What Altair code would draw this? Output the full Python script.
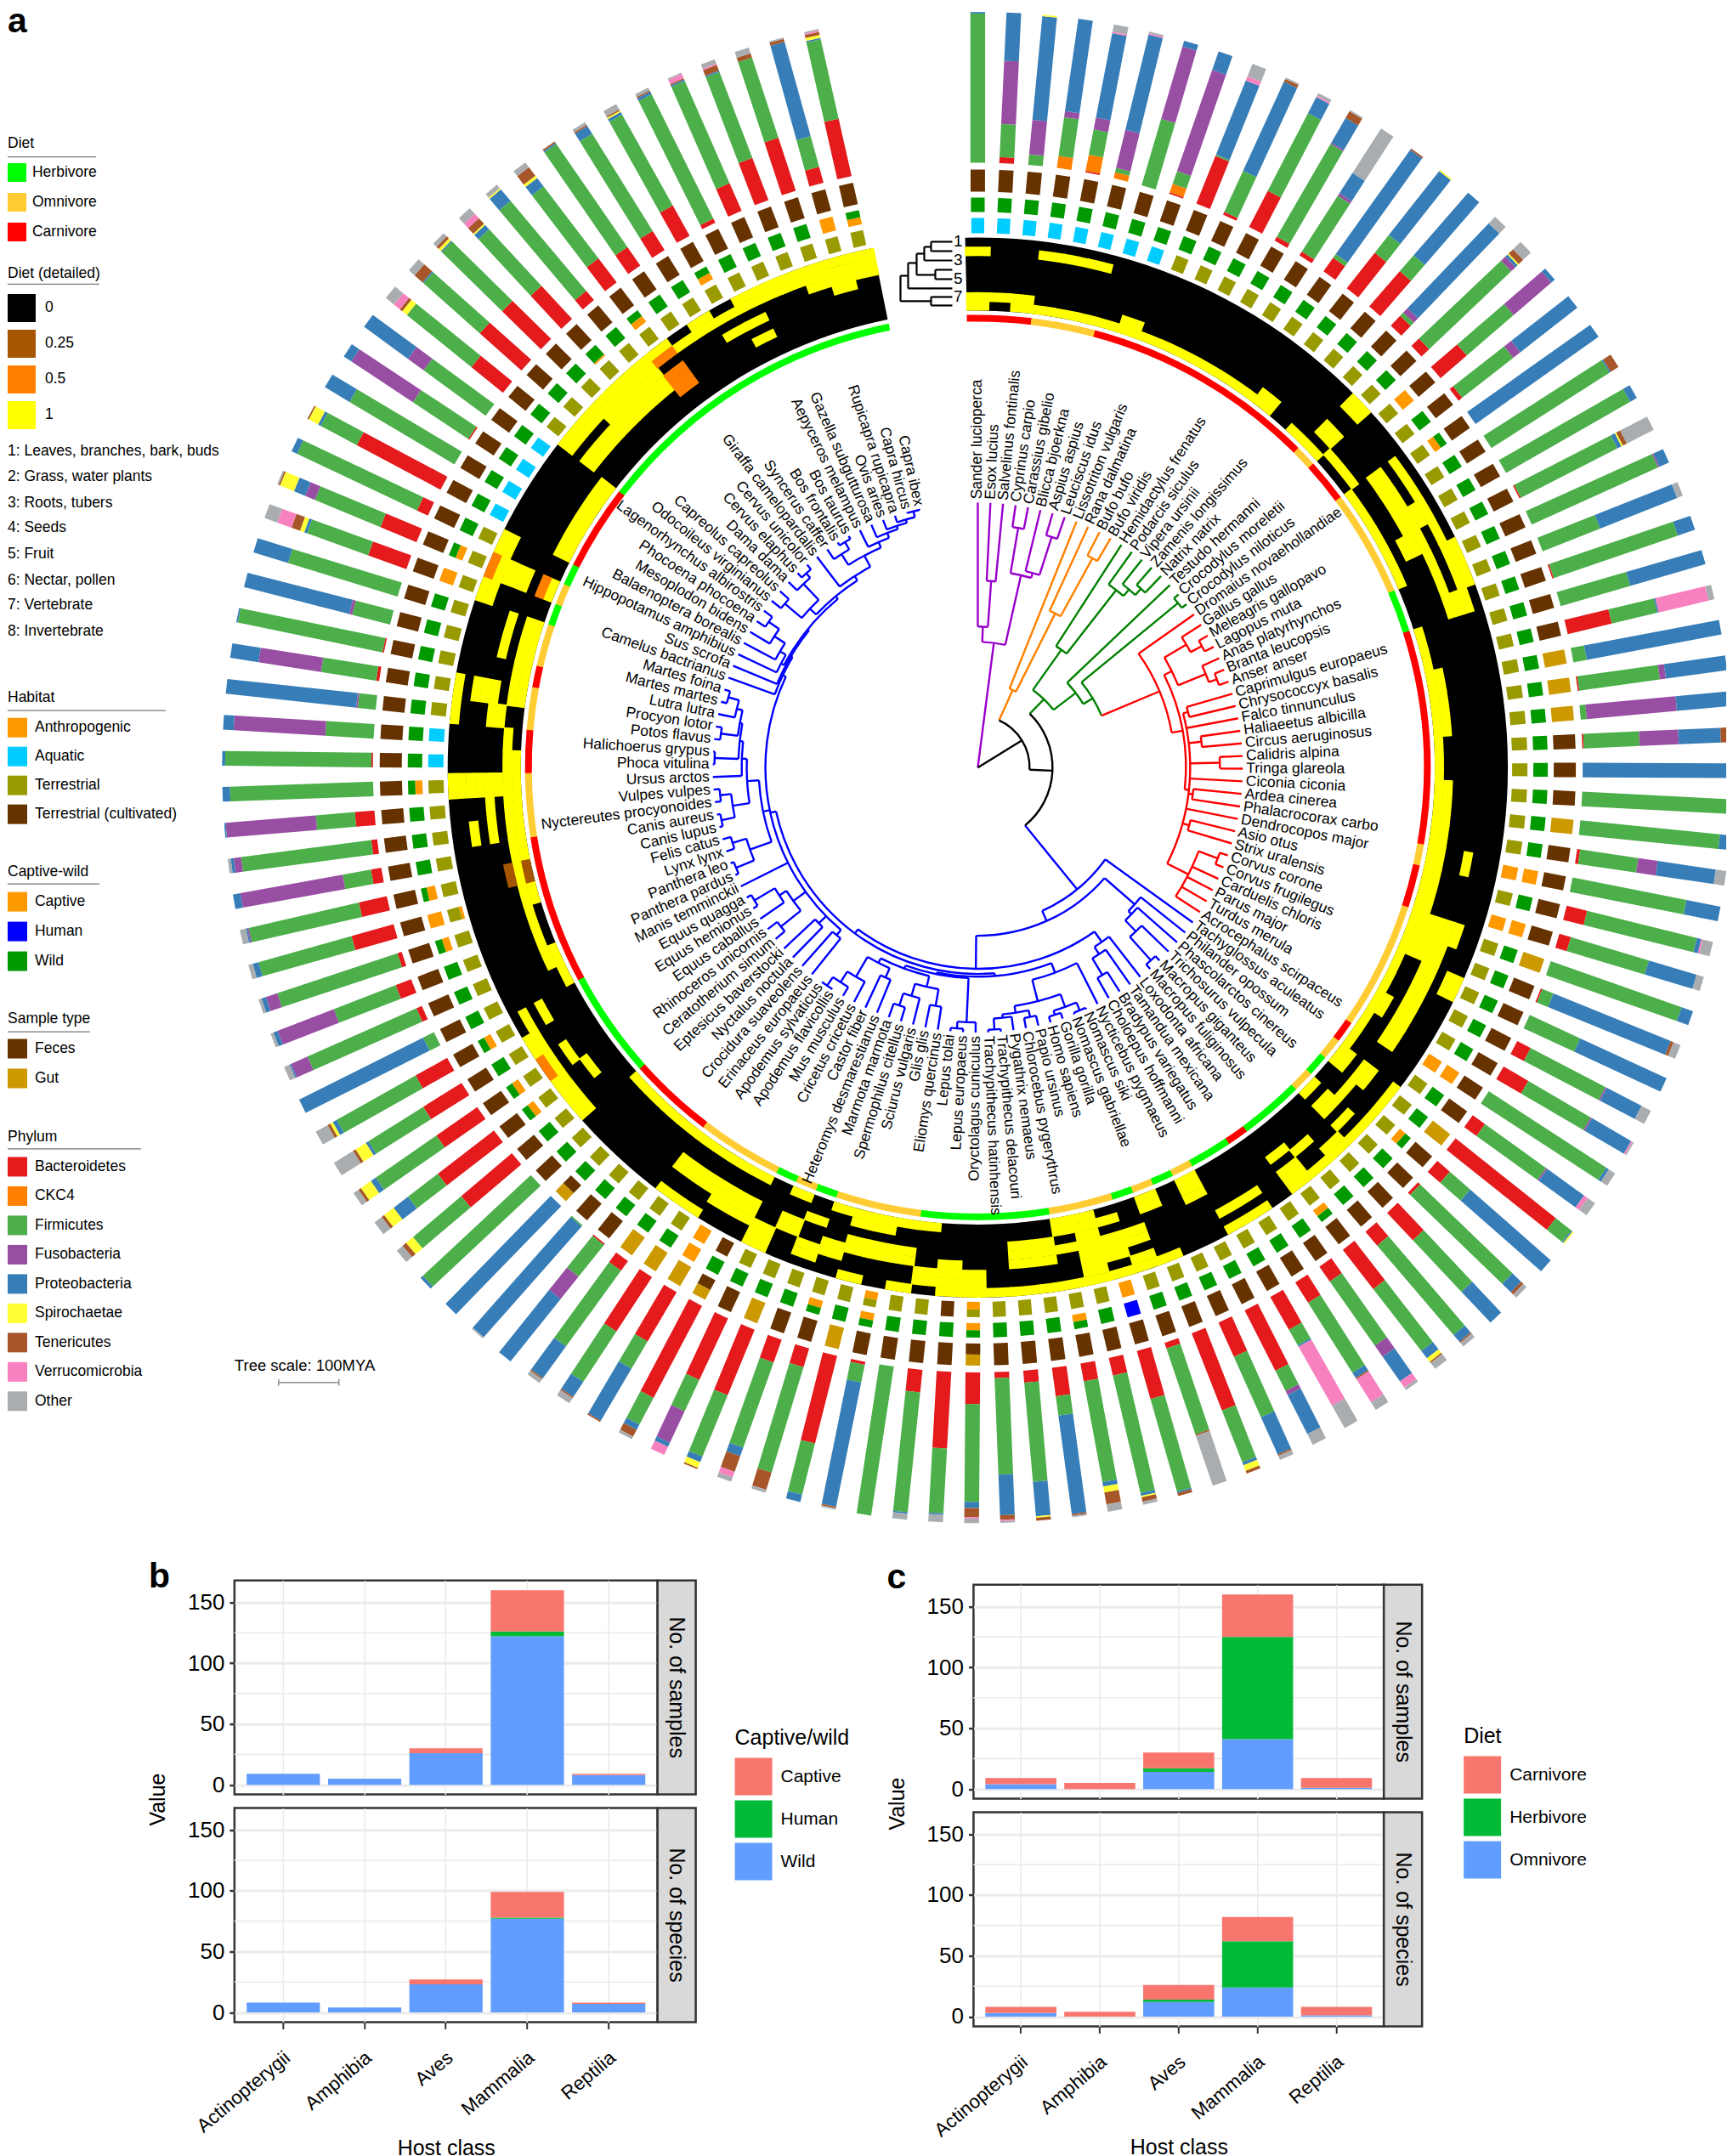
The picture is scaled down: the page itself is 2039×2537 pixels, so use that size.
import math
import altair as alt
import pandas as pd

SPECIES = """Sander lucioperca|Esox lucius|Salvelinus fontinalis|Cyprinus carpio|Carassius gibelio|Blicca bjoerkna|Aspius aspius|Leuciscus idus|Lissotriton vulgaris|Rana dalmatina|Bufo bufo|Bufo viridis|Hemidactylus frenatus|Podarcis siculus|Vipera ursinii|Zamenis longissimus|Natrix natrix|Testudo hermanni|Crocodylus moreletii|Crocodylus niloticus|Dromaius novaehollandiae|Gallus gallus|Meleagris gallopavo|Lagopus muta|Anas platyrhynchos|Branta leucopsis|Anser anser|Caprimulgus europaeus|Chrysococcyx basalis|Falco tinnunculus|Haliaeetus albicilla|Circus aeruginosus|Calidris alpina|Tringa glareola|Ciconia ciconia|Ardea cinerea|Phalacrocorax carbo|Dendrocopos major|Asio otus|Strix uralensis|Corvus corone|Corvus frugilegus|Carduelis chloris|Parus major|Turdus merula|Acrocephalus scirpaceus|Tachyglossus aculeatus|Philander opossum|Phascolarctos cinereus|Trichosurus vulpecula|Macropus giganteus|Macropus fuliginosus|Loxodonta africana|Tamandua mexicana|Bradypus variegatus|Choloepus hoffmanni|Nycticebus pygmaeus|Nomascus siki|Nomascus gabriellae|Gorilla gorilla|Homo sapiens|Papio ursinus|Chlorocebus pygerythrus|Pygathrix nemaeus|Trachypithecus delacouri|Trachypithecus hatinhensis|Oryctolagus cuniculus|Lepus europaeus|Lepus tolai|Eliomys quercinus|Glis glis|Sciurus vulgaris|Spermophilus citellus|Marmota marmota|Heteromys desmarestianus|Castor fiber|Cricetus cricetus|Mus musculus|Apodemus flavicollis|Apodemus sylvaticus|Erinaceus europaeus|Crocidura suaveolens|Nyctalus noctula|Eptesicus baverstocki|Ceratotherium simum|Rhinoceros unicornis|Equus caballus|Equus hemionus|Equus quagga|Manis temminckii|Panthera pardus|Panthera leo|Lynx lynx|Felis catus|Canis lupus|Canis aureus|Nyctereutes procyonoides|Vulpes vulpes|Ursus arctos|Phoca vitulina|Halichoerus grypus|Potos flavus|Procyon lotor|Lutra lutra|Martes martes|Martes foina|Camelus bactrianus|Sus scrofa|Hippopotamus amphibius|Balaenoptera borealis|Mesoplodon bidens|Phocoena phocoena|Lagenorhynchus albirostris|Odocoileus virginianus|Capreolus capreolus|Dama dama|Cervus elaphus|Cervus unicolor|Giraffa camelopardalis|Syncerus caffer|Bos frontalis|Bos taurus|Aepyceros melampus|Gazella subgutturosa|Ovis aries|Rupicapra rupicapra|Capra hircus|Capra ibex""".split("|")

# phylum composition, inner to outer: B Bacteroidetes K CKC4 F Firmicutes U Fusobacteria P Proteobacteria S Spirochaetae T Tenericutes V Verrucomicrobia O Other
COMPOSITION = [
"F99 P1","B4 F22 U42 P32","F7 U23 P69 S1","K8 F26 U4 P62","B1 K11 F17 U8 P57 V1 O5","K4 F3 U26 P65 V1 O1","F46 U50 P4","B1 K6 F9 U71 P13","B34 F1 P53 V3 O9","B2 F30 P65 T2 O1",
"B27 F58 P12 V1 O2","B3 F71 U1 P19 T5 O1","B3 F44 U2 P16 O35","B11 F3 P85 T1","B30 F15 P54 S1","B31 F14 P55","B9 F3 U4 P78 O6","B7 F75 U4 P2 S1 T4 O7","B23 F41 U33 P3","B3 F43 U6 P48",
"P100","F93 P1 T6","F95 P5","B1 F72 P3 S1 T3 O20","F92 U1 P7","F41 P55 O4","B1 F87 P12","F48 P52","B30 F31 P1 V34 O4","F9 P91",
"B1 F54 U4 P41","F4 U60 P36","B1 F37 U26 P28 T8","P100","F96 P4","F93 P7","B2 F39 U13 P39 O7","F77 P23","B14 F75 P3 V1 O7","B8 F54 P33 O5",
"F92 P8","B1 F8 P84 T2 O5","F37 P63","B10 F56 U1 P26 O7","B19 F48 U1 P30 V1 O1","F93 P2 O5","B10 F50 U1 P30 V3 O6","B85 F13 P1 S1","B11 F18 P71","B2 F85 P8 T2 O3",
"B25 F47 P28","B12 F78 P6 T1 O3","B33 F52 P6 S3 T1 O5","B12 F52 U9 P20 V5 O2","B16 F55 P4 T1 V18 O6","B25 F12 P1 V45 O17","B45 F15 U3 P29 O8","B25 F44 P27 T1 O3","B55 F37 P2 S4 T2","B4 F60 T1 O35",
"B33 F64 P1 T2","B12 F80 P2 S1 T3 O2","B12 F68 P3 S4 T8 O5","B19 F13 P66 T1 O1","B8 F66 P23 S1 T2","B4 F64 P27 T3 V1 O1","B21 F65 P4 T6 V1 O3","B51 F43 P1 O5","B15 F80 P1 O4","F100",
"B2 F12 P84 T1 O1","B60 F35 P5","B13 F73 T12 O2","B16 F60 P6 T11 V4 O3","B47 F44 P4 S4 T1","B45 F23 U23 P3 V6","B69 F20 P4 T5 O2","B38 F21 P40 T1","B43 F40 P12 T1 O4","B8 F62 P26 T1 O3",
"B1 F27 U19 P53","F1 P98 O1","P100","F98 P2","B44 F42 S6 T3 O5","B47 F25 P12 S8 T2 O6","B33 F49 P4 S8 T2 O4","B30 F43 P2 S8 T2 O15","B24 F60 P3 S2 T2 O9","F8 P92",
"B4 F79 U12 P1 O4","B11 F44 U40 P3 O2","B3 F84 U8 P3 O2","B29 F64 P4 O3","B19 F75 U1 P1 O4","B7 F19 U69 P5","B4 F87 U5 P2 O2","B13 F26 U60 P1","F95 P5","B1 F97 P2",
"F32 U61 P7","F12 U1 P87","B2 F37 U42 P19","B1 F98 P1","F26 U2 P72","F76 P24","B27 F43 P2 S3 T6 V10 O9","B26 F47 U7 P8 S10 T1 O1","B8 F88 P4","B63 F27 P2 S7 T1",
"F81 P19","B1 F44 U49 P6","F51 U13 P36","B27 F55 S4 T2 V5 O7","B37 F50 P1 T7 O5","B36 F56 P1 S2 T2 O3","B30 F51 P4 S1 T5 V4 O5","B8 F78 P10 S1 O3","B20 F60 P7 S2 T7 O4","B15 F83 P1 T1",
"B15 F76 P6 T1 O2","B23 F69 P2 S1 T1 O4","B3 F92 P2 T1 O2","B20 F74 P1 T1 V3 O1","B30 F61 P1 T4 V1 O3","B37 F56 T3 O4","B11 F21 P65 T2 O1","B39 F54 P1 S2 T2 V1 O1"]

# rows of the diet heat map that are not 0, for every species
HEAT = [
"278","7","78","28","28","28","8","78","8","8","8","8","8","8","78","","8","12568","7","7",
"2458","2458","23458","24568","1248","124","234","8","8","78","78","78","8","8","78","78","78","478","78","78",
"345678","45678","12458","458","4578","458","8","14578","15","13568","12","14","1235","","13","13","678","","178","1245",
"13457","12345678","1578","1456","1456","1","123","1234","238","1458","4578","14578","348","236","458","123","3458","3458","1458","1458",
"8","8","8","8","12","125","124","12","24","8","78","7","7","78","678","78","3578","578","12345678","78",
"7","156","134578","78","578","578","12","1234578","12","78","78","78","78","1245","1245","12345","12345","12345","12456","2",
"12","24","1246","12","12","123","1234","123"]
HEAT_HALF = [(86,1),(107,1),(107,7),(118,2),(118,4),(118,5),(118,6)]
HEAT_QUARTER = [(94,6),(94,8)]
HEAT_LEVELS = ["0","0.25","0.5","1"]
HEAT_COLORS = ["#000000","#A65600","#FF8000","#FFFF00"]

DIET_RUNS = [("Carnivore",0,2),("Omnivore",3,5),("Carnivore",6,16),("Omnivore",17,17),("Carnivore",18,19),("Omnivore",20,24),("Herbivore",25,26),
("Carnivore",27,36),("Omnivore",37,37),("Carnivore",38,39),("Omnivore",40,45),("Carnivore",46,46),("Omnivore",47,47),("Herbivore",48,48),("Omnivore",49,49),
("Herbivore",50,52),("Carnivore",53,53),("Herbivore",54,55),("Omnivore",56,56),("Herbivore",57,57),("Omnivore",58,58),("Herbivore",59,59),("Omnivore",60,62),
("Herbivore",63,68),("Omnivore",69,72),("Herbivore",73,73),("Omnivore",74,74),("Herbivore",75,75),("Omnivore",76,79),("Carnivore",80,83),("Herbivore",84,88),
("Carnivore",89,95),("Omnivore",96,98),("Carnivore",99,100),("Omnivore",101,102),("Carnivore",103,103),("Omnivore",104,105),("Herbivore",106,106),("Omnivore",107,107),
("Herbivore",108,108),("Carnivore",109,112),("Herbivore",113,127)]
DIET_NAMES = ["Herbivore","Omnivore","Carnivore"]
DIET_COLORS = ["#00FF00","#FFCC33","#FF0000"]

HABITAT_NAMES = ["Anthropogenic","Aquatic","Terrestrial","Terrestrial (cultivated)"]
HABITAT_COLORS = ["#FF9900","#00CCFF","#999900","#663300"]
HABITAT_AQUATIC = [0,1,2,3,4,5,6,7,99,100,109,110,111,112]
HABITAT_ANTHRO = [37,39,45,60,77]
HABITAT_CULT = [67,76]
HABITAT_MIX = [66,70,93]

CAPTIVE_NAMES = ["Captive","Human","Wild"]
CAPTIVE_COLORS = ["#FF9900","#0000FF","#009900"]
CAPTIVE_FULL = [18,37,39,45,77,93,106,126]
CAPTIVE_HUMAN = [60]
CAPTIVE_MIX = [20,48,52,62,66,70,72,85,86,88,92,94,98,107,116,118,121,127]
MIX_SHARE = {93:0.2,116:0.12,94:0.6}

SAMPLE_NAMES = ["Feces","Gut"]
SAMPLE_COLORS = ["#663300","#CC9900"]
SAMPLE_GUT = [29,30,31,35,40,47,71,74,77,78,79]
SAMPLE_MIX = [66,76,82]

PHYLA = ["Bacteroidetes","CKC4","Firmicutes","Fusobacteria","Proteobacteria","Spirochaetae","Tenericutes","Verrucomicrobia","Other"]
PHYLA_KEYS = ["B","K","F","U","P","S","T","V","O"]
PHYLA_COLORS = ["#E41A1C","#FF7F00","#4DAF4A","#984EA3","#377EB8","#FFFF33","#A65628","#F781BF","#A9ADB0"]

DIET_ITEMS = ["1: Leaves, branches, bark, buds","2: Grass, water plants","3: Roots, tubers","4: Seeds","5: Fruit","6: Nectar, pollen","7: Vertebrate","8: Invertebrate"]
DIET_ITEM_Y = [530,560,591,620,651,682,711,742]

# tree: (node radius, children); an int is a species index
FISH = (148,[(166,[0,(220,[1,2])]),(232,[(286,[3,4]),(238,[5,(285,[6,7])])])])
AMPH = (100,[8,(203,[9,(281,[10,11])])])
SQUAM = (170,[12,(265,[13,(275,[14,(285,[15,16])])])])
GALLO = (255,[(285,[21,(300,[22,23])]),(290,[24,(300,[25,26])])])
PASS = (278,[(302,[40,41]),42,43,44,45])
NEO = (250,[(256,[27,28]),29,(265,[30,31]),(285,[32,33]),34,(255,[35,36]),37,(258,[38,39]),PASS])
BIRDS = (232,[20,(245,[GALLO,NEO])])
ARCH = (145,[17,(158,[(305,[18,19]),BIRDS])])
RB = (112,[SQUAM,ARCH])
MARS = (245,[47,(250,[48,(268,[49,(305,[50,51])])])])
ATL = (252,[52,(262,[53,(285,[54,55])])])
PRIM = (258,[56,(284,[(300,[(310,[57,58]),(305,[59,60])]),(292,[(300,[61,62]),(296,[63,(309,[64,65])])])])])
SCIUR = (265,[(285,[69,70]),(280,[71,(295,[72,73])])])
MUR = (258,[(270,[74,75]),(285,[76,(300,[77,(312,[78,79])])])])
GLI = (248,[(300,[66,(308,[67,68])]),(252,[SCIUR,MUR])])
PERI = (268,[(298,[84,85]),(278,[86,(306,[87,88])])])
FELI = (285,[(308,[90,91]),(302,[92,93])])
CANI = (272,[(292,[(308,[94,95]),(305,[96,97])]),(278,[98,(282,[(310,[99,100]),(285,[(305,[101,102]),(292,[103,(305,[104,105])])])])])])
WHIP = (262,[108,(270,[109,(285,[110,(300,[111,112])])])])
BOV = (283,[(298,[119,(308,[120,121])]),(290,[122,(296,[123,(300,[124,(304,[125,(311,[126,127])])])])])])
RUM = (262,[(272,[(298,[113,114]),(298,[115,(305,[116,117])])]),(268,[118,BOV])])
CET = (254,[106,(256,[107,(258,[WHIP,RUM])])])
LAUR = (250,[(258,[80,81]),(262,[82,83]),PERI,89,(258,[FELI,CANI]),CET])
BORE = (243,[(246,[PRIM,GLI]),LAUR])
MAMM = (185,[46,(198,[MARS,(237,[ATL,BORE])])])
TREE = (0,[FISH,(61,[AMPH,(88,[RB,MAMM])])])

DENDRO = [(1095,283,1120,283),(1095,294,1120,294),(1095,283,1095,294),(1087,289,1095,289),(1087,305,1120,305),(1087,289,1087,305),
(1078,297,1087,297),(1100,316,1120,316),(1100,327,1120,327),(1100,316,1100,327),(1078,322,1100,322),(1078,297,1078,322),
(1068,308,1078,308),(1068,338,1120,338),(1068,308,1068,338),(1059,323,1068,323),(1095,348,1120,348),(1095,358,1120,358),(1095,348,1095,358),(1059,353,1095,353),(1059,323,1059,353)]
ROW_LABELS = ["1","3","5","7"]
ROW_LABEL_Y = [283,305,327,348]

HOSTS = ["Actinopterygii","Amphibia","Aves","Mammalia","Reptilia"]
B_SAMPLES = {"Wild":[9,5,26,122,8],"Human":[0,0,0,4,0],"Captive":[0,0,4,34,1]}
B_SPECIES = {"Wild":[8,4,23,77,7],"Human":[0,0,0,1,0],"Captive":[0,0,4,21,1]}
C_SAMPLES = {"Omnivore":[4,0,14,41,1],"Herbivore":[0,0,3,84,0],"Carnivore":[5,5,13,35,8]}
C_SPECIES = {"Omnivore":[3,0,12,24,1],"Herbivore":[0,0,2,38,0],"Carnivore":[5,4,12,20,7]}

FONT = "Liberation Sans"
CX, CY = 1150.0, 902.0
STEP = 350.0 / 128.0
W, H = 2023, 1792
LEFT = 8

def polar(a, r):
    t = math.radians(a)
    return CX + r*math.sin(t), CY - r*math.cos(t)

xs = alt.Scale(domain=[8, 8+W], range=[0, W], nice=False, zero=False)
ys = alt.Scale(domain=[8, 8+H], range=[0, H], nice=False, zero=False)
AX = alt.X("x:Q", scale=xs, axis=None)
AY = alt.Y("y:Q", scale=ys, axis=None)

def seg(i, r0, r1, name):
    x, y = polar(i*STEP, r0)
    x2, y2 = polar(i*STEP, r1)
    return {"x":x,"y":y,"x2":x2,"y2":y2,"name":name}

def square_legend(title, y, side, gap, label_off):
    return alt.Legend(title=title, orient="none", legendX=0, legendY=y-8, symbolType="square",
              labelFontSize=17.5, titleFontSize=17.5, titleFontWeight="normal", labelFont=FONT, titleFont=FONT,
              rowPadding=gap, labelOffset=label_off, titlePadding=15, padding=0, labelLimit=400,
              symbolSize=side*side, symbolStrokeWidth=0, symbolOpacity=1)

def rule_layer(rows, width, names, colors):
    return alt.Chart(pd.DataFrame(rows)).mark_rule(strokeWidth=width).encode(
        x=AX, y=AY, x2="x2:Q", y2="y2:Q",
        color=alt.Color("name:N", scale=alt.Scale(domain=names, range=colors), legend=None))

def legend_layer(names, colors, legend):
    d = pd.DataFrame({"name":names,"x":[20]*len(names),"y":[40]*len(names)})
    return alt.Chart(d).mark_square(opacity=0, size=1).encode(
        x=AX, y=AY, color=alt.Color("name:N", scale=alt.Scale(domain=names, range=colors), sort=names, legend=legend))

# stacked bars
bar_rows = []
for i, comp in enumerate(COMPOSITION):
    parts = [(t[0], float(t[1:])) for t in comp.split()]
    parts.sort(key=lambda p: PHYLA_KEYS.index(p[0]))
    total = sum(v for _, v in parts)
    r = 712.0
    for k, v in parts:
        r2 = r + 177.5*v/total
        bar_rows.append(seg(i, r, r2, PHYLA[PHYLA_KEYS.index(k)]))
        r = r2

def tile_rows(r0, r1, code_for):
    rows = []
    for i in range(128):
        code = code_for(i)
        if len(code) == 1:
            rows.append(seg(i, r0, r1, code[0]))
        else:
            mid = r0 + (r1-r0)*MIX_SHARE.get(i, 0.5)
            rows.append(seg(i, r0, mid, code[0]))
            rows.append(seg(i, mid, r1, code[1]))
    return rows

def habitat_code(i):
    if i in HABITAT_MIX: return ["Anthropogenic","Terrestrial"]
    if i in HABITAT_AQUATIC: return ["Aquatic"]
    if i in HABITAT_ANTHRO: return ["Anthropogenic"]
    if i in HABITAT_CULT: return ["Terrestrial (cultivated)"]
    return ["Terrestrial"]

def captive_code(i):
    if i in CAPTIVE_MIX: return ["Captive","Wild"]
    if i in CAPTIVE_FULL: return ["Captive"]
    if i in CAPTIVE_HUMAN: return ["Human"]
    return ["Wild"]

def sample_code(i):
    if i in SAMPLE_MIX: return ["Feces","Gut"]
    if i in SAMPLE_GUT: return ["Gut"]
    return ["Feces"]

# arcs
def arc_df(rows):
    return pd.DataFrame(rows, columns=["t0","t1","r0","r1","name"])

THETA = alt.Theta("t0:Q", scale=None, stack=None)
THETA2 = alt.Theta2("t1:Q")
RAD = alt.Radius("r1:Q", scale=None)
RAD2 = alt.Radius2("r0:Q")

def ang(a):
    return math.radians(a)

half = STEP/2
heat_rows = [[ang(-half), ang(127*STEP+half), 538, 624, "0"]]
heat_cells = []
for i, s in enumerate(HEAT):
    for c in s:
        row = int(c)
        level = "1"
        if (i,row) in HEAT_HALF: level = "0.5"
        if (i,row) in HEAT_QUARTER: level = "0.25"
        ro = 624-(row-1)*10.75
        heat_cells.append([ang((i-0.5)*STEP-0.07), ang((i+0.5)*STEP+0.07), max(ro-11.1, 538), min(ro+0.1, 624), level])
heat_cells.sort(key=lambda c: HEAT_LEVELS.index(c[4]), reverse=True)
heat_rows += heat_cells

heat_layer = alt.Chart(arc_df(heat_rows)).mark_arc().encode(
    theta=THETA, theta2=THETA2, radius=RAD, radius2=RAD2,
    x=alt.value(CX-8), y=alt.value(CY-8),
    color=alt.Color("name:N", scale=alt.Scale(domain=HEAT_LEVELS, range=HEAT_COLORS), sort=HEAT_LEVELS,
                    legend=square_legend("Diet (detailed)", 312, 33, 9, 11)))

diet_rows = [[ang((a-0.5)*STEP-0.03), ang((b+0.5)*STEP+0.03), 525, 533, n] for n, a, b in DIET_RUNS]
diet_layer = alt.Chart(arc_df(diet_rows)).mark_arc().encode(
    theta=THETA, theta2=THETA2, radius=RAD, radius2=RAD2,
    x=alt.value(CX-8), y=alt.value(CY-8),
    color=alt.Color("name:N", scale=alt.Scale(domain=DIET_NAMES, range=DIET_COLORS), sort=DIET_NAMES,
                    legend=square_legend("Diet", 158, 22, 13, 7)))

# tree
TIP_R = 312.0
COLORS = {"fish":"#9900CC","amph":"#FF8000","rept":"#008000","bird":"#FF0000","mamm":"#0000FF","root":"#000000"}
def clade(lo, hi):
    if hi <= 7: return "fish"
    if lo >= 8 and hi <= 11: return "amph"
    if lo >= 20 and hi <= 45: return "bird"
    if lo >= 12 and hi <= 45: return "rept"
    if lo >= 46: return "mamm"
    return "root"

tree_rad, tree_arc = [], []
def walk(node):
    if isinstance(node, int):
        return node*STEP, node, node, TIP_R
    r, kids = node
    res = [walk(k) for k in kids]
    lo = min(x[1] for x in res); hi = max(x[2] for x in res)
    angle = (res[0][0]+res[-1][0])/2
    c = clade(lo, hi)
    if r > 0:
        tree_arc.append([ang(res[0][0]), ang(res[-1][0]), r, r, c])
    for a, l, h, rk in res:
        x, y = polar(a, r)
        x2, y2 = polar(a, rk)
        tree_rad.append({"x":x,"y":y,"x2":x2,"y2":y2,"name":clade(l,h)})
    return angle, lo, hi, r
walk(TREE)
rad_df = pd.DataFrame(tree_rad)
arc_tree = arc_df(tree_arc)
tree_layers = []
for key, col in COLORS.items():
    tree_layers.append(alt.Chart(rad_df[rad_df.name==key]).mark_rule(color=col, strokeWidth=2.4).encode(x=AX, y=AY, x2="x2:Q", y2="y2:Q"))
    tree_layers.append(alt.Chart(arc_tree[arc_tree.name==key]).mark_arc(stroke=col, strokeWidth=2.4, fillOpacity=0).encode(
        theta=THETA, theta2=THETA2, radius=RAD, radius2=RAD2, x=alt.value(CX-8), y=alt.value(CY-8)))

# species labels
lab = []
for i, n in enumerate(SPECIES):
    a = i*STEP
    x, y = polar(a, 316)
    right = a <= 180
    lab.append({"x":x,"y":y,"label":n,"rot":(a-90)%360 if right else (a+90)%360,"side":"r" if right else "l"})
lab = pd.DataFrame(lab)
lab_r = alt.Chart(lab[lab.side=="r"]).mark_text(align="left", baseline="middle", fontSize=17.5, font=FONT).encode(
    x=AX, y=AY, text="label:N", angle=alt.Angle("rot:Q", scale=None))
lab_l = alt.Chart(lab[lab.side=="l"]).mark_text(align="right", baseline="middle", fontSize=17.5, font=FONT).encode(
    x=AX, y=AY, text="label:N", angle=alt.Angle("rot:Q", scale=None))

# plain text, underlines, small dendrogram
texts = pd.DataFrame({"x":[LEFT]*len(DIET_ITEMS),"y":DIET_ITEM_Y,"label":DIET_ITEMS})
text_layer = alt.Chart(texts).mark_text(align="left", baseline="middle", fontSize=17.5, font=FONT).encode(x=AX, y=AY, text="label:N")
rows_df = pd.DataFrame({"x":[1132]*4,"y":ROW_LABEL_Y,"label":ROW_LABELS})
rows_layer = alt.Chart(rows_df).mark_text(align="right", baseline="middle", fontSize=19, font=FONT).encode(x=AX, y=AY, text="label:N")
scale_text = alt.Chart(pd.DataFrame({"x":[275],"y":[1606],"label":["Tree scale: 100MYA"]})).mark_text(align="left", baseline="middle", fontSize=18.5, font=FONT).encode(x=AX, y=AY, text="label:N")
a_text = alt.Chart(pd.DataFrame({"x":[LEFT],"y":[36],"label":["a"]})).mark_text(align="left", baseline="alphabetic", fontSize=41, fontWeight="bold", font=FONT).encode(x=AX, y=AY, text="label:N")

UNDER = [(LEFT,112,183),(LEFT,116,333),(LEFT,194,835),(LEFT,116,1039),(LEFT,105,1213),(LEFT,165,1351)]
under_df = pd.DataFrame([{"x":a,"x2":b,"y":y,"y2":y} for a,b,y in UNDER])
under_layer = alt.Chart(under_df).mark_rule(color="#777777", strokeWidth=1.2).encode(x=AX, y=AY, x2="x2:Q", y2="y2:Q")
scale_df = pd.DataFrame([{"x":327,"x2":398,"y":1626,"y2":1626},{"x":327,"x2":327,"y":1622,"y2":1630},{"x":398,"x2":398,"y":1622,"y2":1630}])
scale_layer = alt.Chart(scale_df).mark_rule(color="#777777", strokeWidth=1.2).encode(x=AX, y=AY, x2="x2:Q", y2="y2:Q")
dendro_df = pd.DataFrame([{"x":a,"y":b,"x2":c,"y2":d} for a,b,c,d in DENDRO])
dendro_layer = alt.Chart(dendro_df).mark_rule(color="#000000", strokeWidth=2.2).encode(x=AX, y=AY, x2="x2:Q", y2="y2:Q")

layers = [heat_layer, diet_layer,
    rule_layer(tile_rows(629,647,habitat_code), 15.2, HABITAT_NAMES, HABITAT_COLORS),
    rule_layer(tile_rows(654,671,captive_code), 16.2, CAPTIVE_NAMES, CAPTIVE_COLORS),
    rule_layer(tile_rows(678,704,sample_code), 17, SAMPLE_NAMES, SAMPLE_COLORS),
    rule_layer(bar_rows, 17.3, PHYLA, PHYLA_COLORS),
    legend_layer(HABITAT_NAMES, HABITAT_COLORS, square_legend("Habitat",811,23,11,9)),
    legend_layer(CAPTIVE_NAMES, CAPTIVE_COLORS, square_legend("Captive-wild",1016,23,12,9)),
    legend_layer(SAMPLE_NAMES, SAMPLE_COLORS, square_legend("Sample type",1189,23,12,9)),
    legend_layer(PHYLA, PHYLA_COLORS, square_legend("Phylum",1328,23,11.5,9)),
] + tree_layers + [lab_r, lab_l, text_layer, rows_layer, scale_text, a_text, under_layer, scale_layer, dendro_layer]

top = alt.layer(*layers).resolve_scale(color="independent").properties(width=W, height=H)

# bar panels
PW_B, PW_C, PH = 498, 483, 252
STRIP = 45
ymain = alt.Scale(domain=[-8,168], nice=False, zero=False)

def panel(series, order, colors, strip_label, pw, show_x, legend=None, letter=None, value_text=None, spacer=None, title_y=148):
    rows = []
    for o, name in enumerate(order):
        for h, v in zip(HOSTS, series[name]):
            rows.append({"host":h,"group":name,"value":v,"o":o})
    df = pd.DataFrame(rows)
    yaxis = alt.Axis(values=[0,50,100,150], title=None, grid=True, gridColor="#EBEBEB", gridWidth=3, domain=False,
                     labelFontSize=26, labelFont=FONT, labelColor="#000000", tickColor="#333333", tickWidth=2.5, tickSize=6, labelPadding=6)
    Y = alt.Y("value:Q", scale=ymain, stack="zero", axis=yaxis)
    xaxis = alt.Axis(title="Host class" if show_x else None, labels=show_x, ticks=show_x, domain=False, grid=True,
                     gridColor="#EBEBEB", gridWidth=1.6, labelAngle=-40, labelAlign="right", labelBaseline="top",
                     labelFontSize=22.5, labelFont=FONT, titleFontSize=25, titleFont=FONT, titleFontWeight="normal",
                     labelColor="#000000", tickColor="#333333", tickWidth=2, tickSize=8, titleY=title_y, titleBaseline="middle",
                     labelPadding=22, labelOffset=-2)
    X = alt.X("host:N", sort=HOSTS, scale=alt.Scale(domain=HOSTS, paddingInner=0.1, paddingOuter=0.15), axis=xaxis)
    minor = alt.Chart(pd.DataFrame({"value":[25,75,125]})).mark_rule(color="#EBEBEB", strokeWidth=1.6).encode(
        y=alt.Y("value:Q", scale=ymain, axis=yaxis))
    bars = alt.Chart(df).mark_bar().encode(x=X, y=Y, order=alt.Order("o:Q"),
        color=alt.Color("group:N", scale=alt.Scale(domain=order[::-1], range=colors[::-1]), sort=order[::-1], legend=legend))
    one = pd.DataFrame({"label":[strip_label]})
    rect = alt.Chart(one).mark_rect(fill="#D9D9D9", stroke="#333333", strokeWidth=2.5).encode(
        x=alt.value(pw), x2=alt.value(pw+STRIP), y=alt.value(0), y2=alt.value(PH))
    stext = alt.Chart(one).mark_text(angle=90, fontSize=25, font=FONT, align="center", baseline="middle").encode(
        x=alt.value(pw+STRIP/2), y=alt.value(PH/2), text="label:N")
    lay = [minor, bars, rect, stext]
    if letter:
        t, lx, ly = letter
        lay.append(alt.Chart(pd.DataFrame({"label":[t]})).mark_text(align="left", baseline="alphabetic", fontSize=41, fontWeight="bold", font=FONT).encode(
            x=alt.value(lx), y=alt.value(ly), text="label:N"))
    if value_text:
        lx, ly = value_text
        lay.append(alt.Chart(pd.DataFrame({"label":["Value"]})).mark_text(angle=270, fontSize=25, font=FONT, align="center", baseline="middle").encode(
            x=alt.value(lx), y=alt.value(ly), text="label:N"))
    if spacer:
        x0, x1, y0 = spacer
        lay.append(alt.Chart(one).mark_rule(opacity=0).encode(x=alt.value(x0), x2=alt.value(x1), y=alt.value(y0)))
    return alt.layer(*lay).properties(width=pw, height=PH, view=alt.ViewBackground(stroke="#333333", strokeWidth=2.5))

def bar_legend(title, x, y):
    return alt.Legend(title=title, orient="none", legendX=x, legendY=y, symbolType="square", symbolSize=44*44, symbolStrokeWidth=0,
                      rowPadding=6, labelFontSize=21, titleFontSize=25, titleFontWeight="normal", titlePadding=11, labelOffset=10,
                      labelFont=FONT, titleFont=FONT, padding=0)

B_ORDER, B_COL = ["Wild","Human","Captive"], ["#619CFF","#00BA38","#F8766D"]
C_ORDER, C_COL = ["Omnivore","Herbivore","Carnivore"], ["#619CFF","#00BA38","#F8766D"]

b1 = panel(B_SAMPLES, B_ORDER, B_COL, "No. of samples", PW_B, False, bar_legend("Captive/wild",589,173), ("b",-101,8), (-90,258), (-110,764,-30))
b2 = panel(B_SPECIES, B_ORDER, B_COL, "No. of species", PW_B, True, None, title_y=148)
c1 = panel(C_SAMPLES, C_ORDER, C_COL, "No. of samples", PW_C, False, bar_legend("Diet",577,166), ("c",-102,4), (-89,258), (-102,500,-30))
c2 = panel(C_SPECIES, C_ORDER, C_COL, "No. of species", PW_C, True, None, title_y=142)

def blank(w, h):
    return alt.Chart(pd.DataFrame({"v":[0]})).mark_rule(opacity=0).encode(x=alt.value(0)).properties(width=w, height=h)

col_b = alt.vconcat(b1, b2, spacing=16, bounds="flush").resolve_scale(color="independent")
col_c = alt.vconcat(blank(1, 5), alt.vconcat(c1, c2, spacing=16, bounds="flush").resolve_scale(color="independent"), spacing=0, bounds="flush").resolve_scale(color="independent")
bottom = alt.hconcat(blank(155, 10), col_b, col_c, spacing=0).resolve_scale(color="independent")

chart = (alt.concat(top, bottom, columns=1, spacing=26, align="none").resolve_scale(color="independent")
         .properties(padding={"left":0,"top":-4,"right":-18,"bottom":0}).configure(font=FONT).configure_view(stroke=None))
chart.save("out.html", embed_options={"renderer": "svg", "actions": False})
